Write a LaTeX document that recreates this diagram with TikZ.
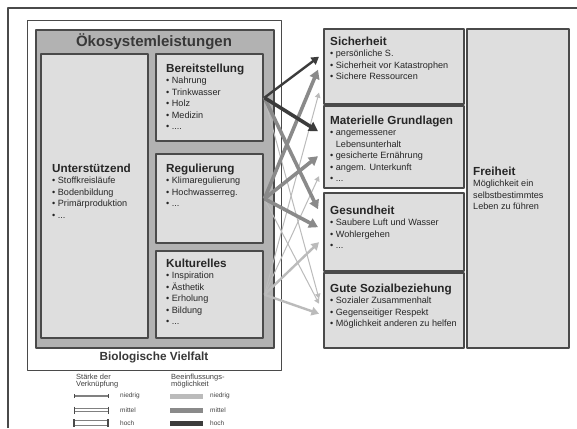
\documentclass[tikz,border=0pt]{standalone}
\usepackage{fontspec}
\setmainfont{Liberation Sans}
\usetikzlibrary{arrows.meta,calc,positioning}

\definecolor{rahmen}{HTML}{4A4A4A}
\definecolor{fuellhell}{HTML}{DEDEDE}
\definecolor{fuellmittel}{HTML}{B2B2B2}
\definecolor{einflhoch}{HTML}{3C3C3C}
\definecolor{einflmittel}{HTML}{8A8A8A}
\definecolor{einflniedrig}{HTML}{BBBBBB}

\newcommand{\kastentitel}{\fontsize{11.7}{12}\selectfont\bfseries}

\tikzset{
	kasten/.style={draw=rahmen, line width=2.4pt, fill=fuellhell, anchor=north west, inner sep=0pt},
	inhalt/.style={anchor=north west, align=left, inner sep=0pt, font=\fontsize{9.1}{11.5}\selectfont, text=black!85},
	legkopf/.style={anchor=west, inner sep=0pt, align=left, font=\fontsize{7.5}{7}\selectfont, text=black!75},
	legtext/.style={anchor=west, inner sep=0pt, font=\fontsize{6.5}{7.5}\selectfont, text=black!75},
	stark/.style={line width=3.6pt, -{Triangle[length=9pt,width=10pt]}},
	mittel/.style={line width=2.4pt, -{Triangle[length=7.5pt,width=8.5pt]}},
	schwach/.style={line width=1pt, -{Triangle[length=5pt,width=5.5pt]}}
}

\begin{document}
\begin{tikzpicture}[x=1pt, y=-1pt, line join=round]
	\useasboundingbox (0,0) rectangle (577,428);
	\fill[white] (0,0) rectangle (577,428);

	% outer frame
	\draw[rahmen, line width=1.2pt] (8,428) -- (8,8) -- (577,8);

	% --- left: Biologische Vielfalt / Oekosystemleistungen ---
	\node[draw=rahmen, line width=1.4pt, fill=white, anchor=north west, inner sep=0pt,
		minimum width=254pt, minimum height=350pt] (vielfalt) at (27,20) {};
	\node[draw=rahmen, line width=2pt, fill=fuellmittel, anchor=north west, inner sep=0pt,
		minimum width=238pt, minimum height=318pt] (oeko) at (35,29) {};
	\node[font=\fontsize{15}{16}\selectfont\bfseries, text=black!78] (oekotitel) at (154,42) {Ökosystemleistungen};
	\node[font=\fontsize{11.8}{13}\selectfont\bfseries, text=black!78] (vielfalttitel) at (154,357) {Biologische Vielfalt};

	\node[kasten, minimum width=107pt, minimum height=284pt] (unterst) at (40,53) {};
	\node[kasten, minimum width=107pt, minimum height=87pt] (bereit) at (155,53) {};
	\node[kasten, minimum width=107pt, minimum height=89pt] (regul) at (155,153) {};
	\node[kasten, minimum width=107pt, minimum height=87pt] (kultur) at (155,250) {};

	\node[inhalt] (unterstext) at (52,163.6) {{\kastentitel Unterstützend}\\
		• Stoffkreisläufe\\ • Bodenbildung\\ • Primärproduktion\\ • ...};
	\node[inhalt] (bereittext) at (166,63.6) {{\kastentitel Bereitstellung}\\
		• Nahrung\\ • Trinkwasser\\ • Holz\\ • Medizin\\ • ....};
	\node[inhalt] (regultext) at (166,163.6) {{\kastentitel Regulierung}\\
		• Klimaregulierung\\ • Hochwasserreg.\\ • ...};
	\node[inhalt] (kulturtext) at (166,258.6) {{\kastentitel Kulturelles}\\
		• Inspiration\\ • Ästhetik\\ • Erholung\\ • Bildung\\ • ...};

	% --- right: Wohlbefinden ---
	\node[kasten, minimum width=140pt, minimum height=75pt] (sicher) at (323,28) {};
	\node[kasten, minimum width=140pt, minimum height=82pt] (materiell) at (323,105) {};
	\node[kasten, minimum width=140pt, minimum height=78pt] (gesund) at (323,192) {};
	\node[kasten, minimum width=140pt, minimum height=75pt] (sozial) at (323,272) {};
	\node[kasten, minimum width=102pt, minimum height=319pt] (freiheit) at (466,28) {};

	\node[inhalt] (sichertext) at (330,36.6) {{\kastentitel Sicherheit}\\
		• persönliche S.\\ • Sicherheit vor Katastrophen\\ • Sichere Ressourcen};
	\node[inhalt] (materielltext) at (330,115.6) {{\kastentitel Materielle Grundlagen}\\
		• angemessener\\ \phantom{• }Lebensunterhalt\\ • gesicherte Ernährung\\ • angem. Unterkunft\\ • ...};
	\node[inhalt] (gesundtext) at (330,205.6) {{\kastentitel Gesundheit}\\
		• Saubere Luft und Wasser\\ • Wohlergehen\\ • ...};
	\node[inhalt] (sozialtext) at (330,283.6) {{\kastentitel Gute Sozialbeziehung}\\
		• Sozialer Zusammenhalt\\ • Gegenseitiger Respekt\\ • Möglichkeit anderen zu helfen};
	\node[inhalt] (freiheittext) at (473,166.6) {{\kastentitel Freiheit}\\
		Möglichkeit ein\\ selbstbestimmtes\\ Leben zu führen};

	% --- links between services and well-being ---
	\draw[schwach, einflniedrig] (kultur.east) -- ([xshift=-4pt,yshift=-26pt]sicher.west);
	\draw[schwach, einflniedrig] (kultur.east) -- ([xshift=-4pt,yshift=-29pt]materiell.west);
	\draw[schwach, einflniedrig] (bereit.east) -- ([xshift=-4pt,yshift=12pt]sozial.west);
	\draw[schwach, einflniedrig] (regul.east) -- ([xshift=-4pt,yshift=7pt]sozial.west);
	\draw[mittel, einflniedrig] (kultur.east) -- ([xshift=-4pt,yshift=-10pt]gesund.west);
	\draw[mittel, einflniedrig] (kultur.east) -- ([xshift=-4pt,yshift=-3pt]sozial.west);
	\draw[stark, einflmittel] (regul.east) -- ([xshift=-5pt,yshift=-3pt]sicher.west);
	\draw[stark, einflmittel] (regul.east) -- ([xshift=-5pt,yshift=-9pt]materiell.west);
	\draw[stark, einflmittel] (bereit.east) -- ([xshift=-5pt,yshift=23pt]gesund.west);
	\draw[stark, einflmittel] (regul.east) -- ([xshift=-5pt,yshift=5pt]gesund.west);
	\draw[stark, einflhoch] (bereit.east) -- ([xshift=-5pt,yshift=16pt]materiell.west);
	\draw[mittel, einflhoch] (bereit.east) -- ([xshift=-4pt,yshift=10pt]sicher.west);

	% --- legend ---
	\node[legkopf] (staerke) at (76,381.5) {Stärke der\\Verknüpfung};
	\node[legkopf] (beeinfl) at (171,381.5) {Beeinflussungs-\\möglichkeit};

	\draw[rahmen!70, line width=0.4pt] (74,395.5) rectangle (108,396.5);
	\draw[rahmen, line width=0.8pt] (74,394) -- (74,398) (108,394) -- (108,398);
	\draw[rahmen!70, line width=0.5pt] (74,408.5) rectangle (108,411.5);
	\draw[rahmen, line width=1pt] (74,406.5) -- (74,413.5) (108,406.5) -- (108,413.5);
	\draw[rahmen!70, line width=0.6pt] (74,420.5) rectangle (108,425.5);
	\draw[rahmen, line width=1.2pt] (74,419) -- (74,427) (108,419) -- (108,427);
	\node[legtext] (sniedrig) at (120,396) {niedrig};
	\node[legtext] (smittel) at (120,410) {mittel};
	\node[legtext] (shoch) at (120,423) {hoch};

	\draw[einflniedrig, line width=5pt] (170,396) -- (203,396);
	\draw[einflmittel, line width=5pt] (170,410) -- (203,410);
	\draw[einflhoch, line width=5pt] (170,423) -- (203,423);
	\node[legtext] (bniedrig) at (210,396) {niedrig};
	\node[legtext] (bmittel) at (210,410) {mittel};
	\node[legtext] (bhoch) at (210,423) {hoch};
\end{tikzpicture}
\end{document}
